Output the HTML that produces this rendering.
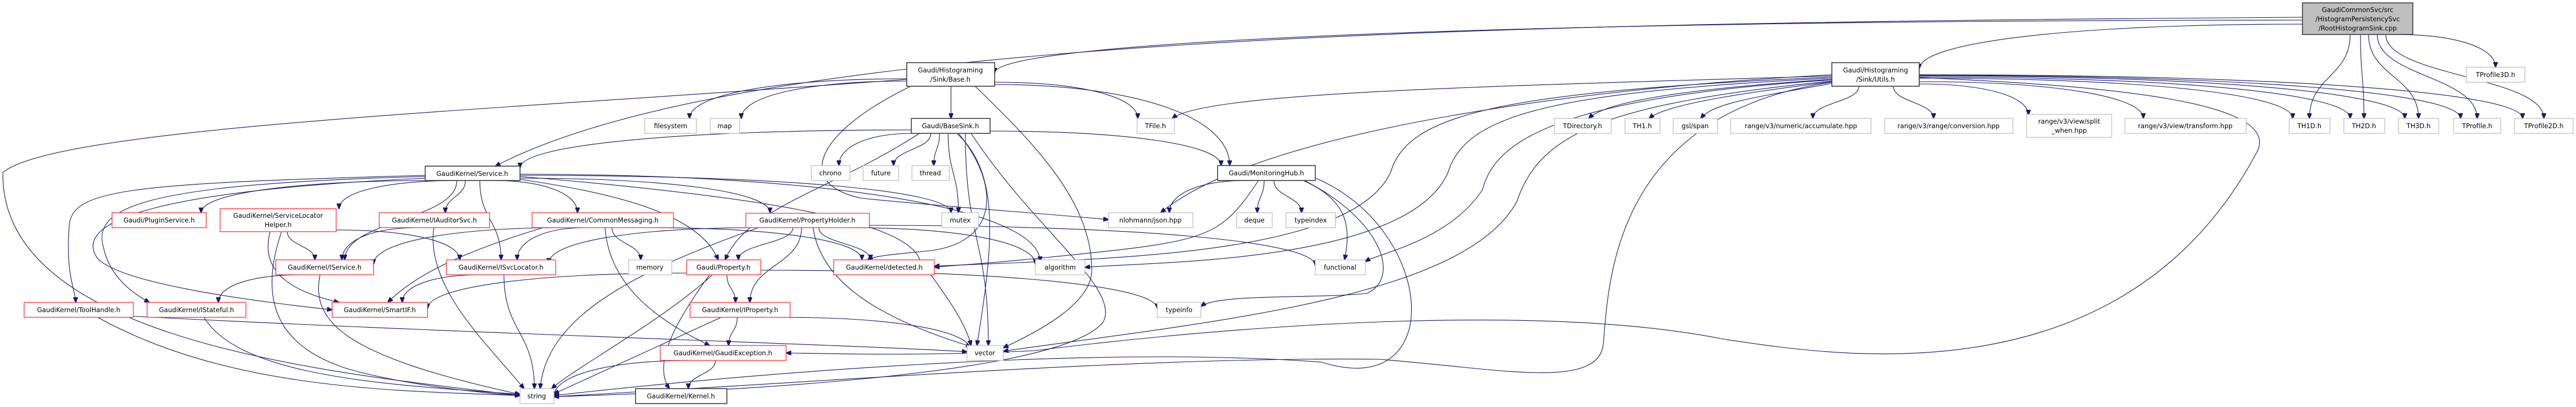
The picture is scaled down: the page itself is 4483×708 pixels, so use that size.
<!DOCTYPE html>
<html><head><meta charset="utf-8">
<style>
html,body{margin:0;padding:0;background:#fff;}
svg{display:block;}
text{font-family:"DejaVu Sans","Liberation Sans",sans-serif;font-size:11.3px;fill:#000;text-anchor:middle;}
.g{fill:#fff;stroke:#bfbfbf;stroke-width:1.3;}
.r{fill:#fff;stroke:#ff3333;stroke-width:1.3;}
.k{fill:#fff;stroke:#404040;stroke-width:1.6;}
.root{fill:#bfbfbf;stroke:#404040;stroke-width:1.6;}
path.e{fill:none;stroke:#191970;stroke-width:1.1;}
</style></head><body>
<svg id="s" width="4483" height="708" viewBox="0 0 4483 708" xmlns="http://www.w3.org/2000/svg">
<defs><marker id="a" markerWidth="10" markerHeight="8" refX="9" refY="4" orient="auto" markerUnits="userSpaceOnUse"><path d="M0,0 L10,4 L0,8 z" fill="#191970" stroke="#191970"/></marker></defs>
<g id="edges"></g>
<g id="nodes">
<rect class="root" x="4007" y="5" width="192" height="55"/><text x="4103" y="21">GaudiCommonSvc/src</text><text x="4103" y="37">/HistogramPersistencySvc</text><text x="4103" y="53">/RootHistogramSink.cpp</text>

<rect class="k" x="1578" y="109" width="153" height="41"/><text x="1654" y="126">Gaudi/Histograming</text><text x="1654" y="142">/Sink/Base.h</text>
<rect class="k" x="3188" y="109" width="152" height="41"/><text x="3264" y="126">Gaudi/Histograming</text><text x="3264" y="142">/Sink/Utils.h</text>
<rect class="g" x="4292" y="117" width="102" height="26"/><text x="4343" y="134">TProfile3D.h</text>

<rect class="g" x="1122" y="206" width="90" height="26"/><text x="1167" y="223">filesystem</text>
<rect class="g" x="1236" y="206" width="51" height="26"/><text x="1261" y="223">map</text>
<rect class="k" x="1586" y="206" width="137" height="26"/><text x="1654" y="223">Gaudi/BaseSink.h</text>
<rect class="g" x="1979" y="206" width="65" height="26"/><text x="2011" y="223">TFile.h</text>
<rect class="g" x="2705" y="206" width="99" height="26"/><text x="2754" y="223">TDirectory.h</text>
<rect class="g" x="2828" y="206" width="61" height="26"/><text x="2858" y="223">TH1.h</text>
<rect class="g" x="2912" y="206" width="77" height="26"/><text x="2950" y="223">gsl/span</text>
<rect class="g" x="3012" y="206" width="244" height="26"/><text x="3134" y="223">range/v3/numeric/accumulate.hpp</text>
<rect class="g" x="3280" y="206" width="223" height="26"/><text x="3391" y="223">range/v3/range/conversion.hpp</text>
<rect class="g" x="3527" y="199" width="148" height="40"/><text x="3601" y="215">range/v3/view/split</text><text x="3601" y="231">_when.hpp</text>
<rect class="g" x="3698" y="206" width="211" height="26"/><text x="3803" y="223">range/v3/view/transform.hpp</text>
<rect class="g" x="3984" y="206" width="71" height="26"/><text x="4019" y="223">TH1D.h</text>
<rect class="g" x="4079" y="206" width="71" height="26"/><text x="4114" y="223">TH2D.h</text>
<rect class="g" x="4174" y="206" width="70" height="26"/><text x="4209" y="223">TH3D.h</text>
<rect class="g" x="4270" y="206" width="82" height="26"/><text x="4311" y="223">TProfile.h</text>
<rect class="g" x="4376" y="206" width="102" height="26"/><text x="4427" y="223">TProfile2D.h</text>

<rect class="k" x="740" y="289" width="165" height="25"/><text x="822" y="306">GaudiKernel/Service.h</text>
<rect class="g" x="1412" y="288" width="67" height="26"/><text x="1445" y="305">chrono</text>
<rect class="g" x="1502" y="288" width="62" height="26"/><text x="1533" y="305">future</text>
<rect class="g" x="1587" y="288" width="65" height="26"/><text x="1619" y="305">thread</text>
<rect class="k" x="2119" y="288" width="170" height="26"/><text x="2204" y="305">Gaudi/MonitoringHub.h</text>

<rect class="r" x="195" y="370" width="164" height="26"/><text x="277" y="387">Gaudi/PluginService.h</text>
<rect class="r" x="383" y="363" width="202" height="40"/><text x="484" y="379">GaudiKernel/ServiceLocator</text><text x="484" y="395">Helper.h</text>
<rect class="r" x="660" y="370" width="192" height="26"/><text x="756" y="387">GaudiKernel/IAuditorSvc.h</text>
<rect class="r" x="926" y="370" width="246" height="26"/><text x="1049" y="387">GaudiKernel/CommonMessaging.h</text>
<rect class="r" x="1298" y="371" width="215" height="25"/><text x="1405" y="387">GaudiKernel/PropertyHolder.h</text>
<rect class="g" x="1639" y="370" width="64" height="26"/><text x="1671" y="387">mutex</text>
<rect class="g" x="1929" y="370" width="147" height="26"/><text x="2002" y="387">nlohmann/json.hpp</text>
<rect class="g" x="2152" y="370" width="62" height="26"/><text x="2183" y="387">deque</text>
<rect class="g" x="2238" y="370" width="86" height="26"/><text x="2281" y="387">typeindex</text>

<rect class="r" x="480" y="452" width="170" height="26"/><text x="565" y="469">GaudiKernel/IService.h</text>
<rect class="r" x="777" y="452" width="190" height="26"/><text x="872" y="469">GaudiKernel/ISvcLocator.h</text>
<rect class="g" x="1094" y="452" width="75" height="26"/><text x="1131" y="469">memory</text>
<rect class="r" x="1195" y="452" width="129" height="26"/><text x="1259" y="469">Gaudi/Property.h</text>
<rect class="r" x="1451" y="452" width="175" height="26"/><text x="1539" y="469">GaudiKernel/detected.h</text>
<rect class="g" x="1802" y="452" width="86" height="26"/><text x="1845" y="469">algorithm</text>
<rect class="g" x="2289" y="452" width="87" height="26"/><text x="2332" y="469">functional</text>

<rect class="r" x="42" y="526" width="190" height="26"/><text x="137" y="543">GaudiKernel/ToolHandle.h</text>
<rect class="r" x="256" y="526" width="172" height="26"/><text x="342" y="543">GaudiKernel/IStateful.h</text>
<rect class="r" x="578" y="526" width="166" height="26"/><text x="661" y="543">GaudiKernel/SmartIF.h</text>
<rect class="r" x="1201" y="526" width="174" height="26"/><text x="1288" y="543">GaudiKernel/IProperty.h</text>
<rect class="g" x="2014" y="526" width="76" height="26"/><text x="2052" y="543">typeinfo</text>

<rect class="r" x="1149" y="601" width="219" height="26"/><text x="1258" y="618">GaudiKernel/GaudiException.h</text>
<rect class="g" x="1683" y="601" width="63" height="26"/><text x="1714" y="618">vector</text>

<rect class="g" x="905" y="676" width="59" height="26"/><text x="934" y="693">string</text>
<rect class="k" x="1106" y="676" width="159" height="26"/><text x="1185" y="693">GaudiKernel/Kernel.h</text>
</g>
</svg>
<script>
var S=[
[4007,35,1731,127],[4007,42,3340,120],[4090,60,4019,206],[4108,60,4114,206],[4122,60,4209,206],[4137,60,4311,206],[4152,60,4427,206],[4170,60,4343,117],
[1655,150,1655,206],[1731,143,1980,206],[1731,147,2140,288],[1578,137,1200,206],[1578,141,1290,206],
[1586,226,905,292],[1590,232,1460,288],[1620,232,1555,288],[1635,232,1625,288],[1650,232,1668,370],[1680,232,1720,601],[1723,228,2125,288],
[2170,314,2035,370],[2200,314,2188,370],[2217,314,2265,370],
[3235,150,3155,206],[3295,150,3365,206],[3340,146,3530,200],[3340,142,3730,206],[3340,136,3990,206],[3340,134,4090,206],[3340,132,4185,206],[3340,131,4282,206],[3340,130,4390,206],
[760,314,350,370],[800,314,590,363],[810,314,775,370],[857,314,1005,370],[905,310,1340,370],[795,314,600,452],[835,314,872,452],[905,305,1655,370],[905,303,1810,455],
[500,403,548,452],[585,400,800,452],[728,396,595,452],[985,396,650,460],[1020,396,900,452],[1065,396,1115,452],[1125,396,1500,452],
[1322,396,955,458],[1380,396,1285,452],[1395,396,1305,526],[1425,396,1515,452],[1475,396,1802,460],[1512,392,2289,462],
[1195,475,744,537],[1265,478,1280,526],[1324,470,2014,537],[1283,552,1268,601],[1360,552,1690,610],[1205,627,964,690],[1245,627,1198,676],
[525,478,380,526],[837,478,700,526],[877,478,930,676]
];
var C=[
"M4007,30 C2600,40 1300,60 862,289",
"M1578,138 C900,190 100,220 5,300 C0,600 600,650 905,688",
"M1697,150 C1800,250 1900,350 1900,470 C1900,530 1800,580 1746,605",
"M1585,150 C1420,230 1380,320 1500,345 C1650,360 1800,370 1929,382",
"M1665,232 C1740,300 1730,420 1700,601",
"M1600,232 C1450,330 1300,360 1262,452",
"M1690,232 C1800,400 1950,500 1920,560 C1850,650 1300,680 964,690",
"M1668,232 C1740,320 1740,420 1620,436 C1560,442 1520,445 1510,452",
"M2268,314 C2350,350 2350,400 2340,452",
"M2270,314 C2400,380 2440,480 2380,510 C2300,520 2120,510 2090,533",
"M2290,310 C2500,400 2520,700 2300,630 C1900,600 1300,650 964,688",
"M2190,314 C2120,420 2100,420 1800,450 C1700,460 1650,462 1626,465",
"M3188,132 C2600,150 2100,160 2040,206",
"M3188,138 C3000,150 2800,170 2765,206",
"M3188,142 C3050,160 2900,180 2870,206",
"M3188,145 C3050,170 2980,180 2960,206",
"M3188,130 C2800,150 2200,220 2020,370",
"M3188,134 C2600,160 2450,200 2420,300 C2350,450 1900,450 1626,463",
"M3188,136 C2700,160 2550,200 2520,300 C2450,460 2000,455 1888,465",
"M3188,139 C2700,170 2600,250 2580,330 C2520,420 2400,440 2376,455",
"M3188,141 C2800,180 2680,230 2640,350 C2550,520 2100,560 1746,611",
"M3188,143 C2800,200 2800,500 2790,600 C2780,680 2600,640 2400,625 C2000,620 1500,660 964,690",
"M3340,135 C3700,150 3960,180 3930,260 C3700,700 3200,620 3000,590 C2700,530 2200,560 1800,610 C1600,620 1450,615 1368,614",
"M740,305 C200,320 120,330 120,400 C115,480 130,500 132,526",
"M740,307 C250,320 160,360 180,430 C190,480 230,510 260,526",
"M740,310 C300,330 120,380 170,450 C220,500 500,530 578,539",
"M905,312 C1100,340 1220,380 1250,452",
"M905,307 C1300,340 1570,380 1600,450 C1650,520 1680,560 1690,601",
"M470,403 C450,480 520,510 590,526",
"M490,403 C450,520 480,600 600,640 C700,670 850,685 905,688",
"M755,396 C740,500 850,600 912,676",
"M945,396 C800,440 720,480 675,526",
"M1053,396 C1060,500 1150,560 1235,601",
"M1320,396 C1080,480 950,560 940,676",
"M1415,396 C1430,500 1550,560 1690,603",
"M1240,478 C1150,560 1000,640 960,676",
"M1235,478 C1160,580 1140,640 1165,676",
"M1255,552 C1150,600 1020,660 964,685",
"M557,478 C540,560 600,620 905,686",
"M170,552 C400,680 700,680 905,688",
"M230,550 C800,580 1500,600 1683,612",
"M355,552 C420,660 700,670 905,686"
];
var g=document.getElementById('edges'),h='';
S.forEach(function(p){var x1=p[0],y1=p[1],x2=p[2],y2=p[3],d;
 if(Math.abs(x2-x1)>Math.abs(y2-y1)*2){d='M'+x1+','+y1+' C'+(x1+(x2-x1)*0.6)+','+y1+' '+x2+','+(y1+(y2-y1)*0.4)+' '+x2+','+y2;}
 else{var m=(y1+y2)/2;d='M'+x1+','+y1+' C'+x1+','+m+' '+x2+','+m+' '+x2+','+y2;}
 h+='<path class="e" marker-end="url(#a)" d="'+d+'"/>';});
C.forEach(function(d){h+='<path class="e" marker-end="url(#a)" d="'+d+'"/>';});
g.innerHTML=h;
</script>
</body></html>
